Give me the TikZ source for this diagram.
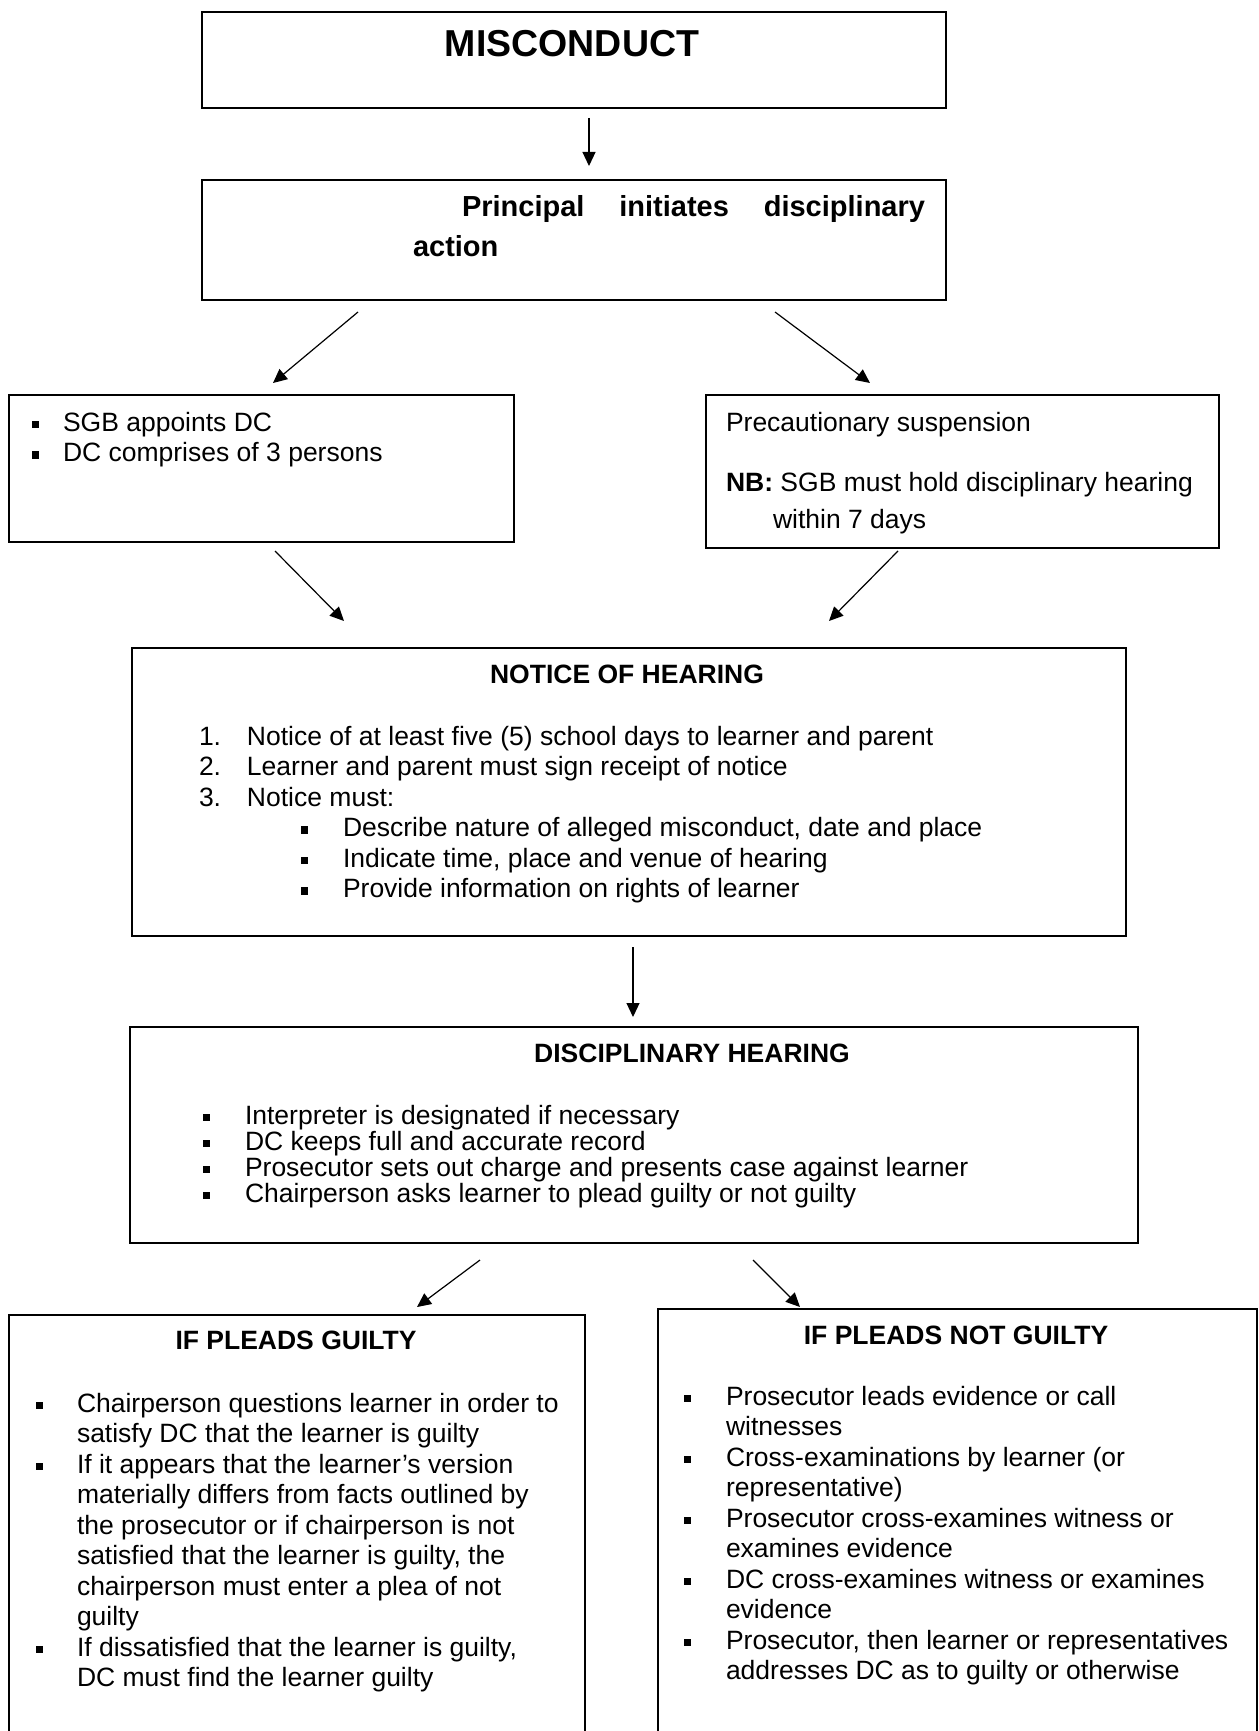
\documentclass[tikz,border=0pt]{standalone}
\usepackage{fontspec}
\setmainfont{Liberation Sans}
\usetikzlibrary{arrows.meta}
\newcommand{\sqb}{\rule[3pt]{6.5pt}{7.5pt}}
\newcommand{\bodyfont}{\fontsize{26.5pt}{30.5pt}\selectfont}
\newcommand{\hitem}[3]{\par\noindent\hangindent=#1\hangafter=1\makebox[#1][l]{#2}#3\par}
\newcommand{\sqsubitem}[3]{\par\noindent\hspace*{#1}\makebox[#2][l]{\sqb}#3\par}
\begin{document}
\begin{tikzpicture}[x=1pt,y=-1pt,
  box/.style={draw, line width=1.8pt, inner sep=0pt, anchor=north west},
  txt/.style={inner sep=0pt, outer sep=0pt, anchor=base west},
  head/.style={inner sep=0pt, outer sep=0pt, anchor=base, font=\fontsize{26.5pt}{30.5pt}\selectfont\bfseries},
  arr/.style={line width=1.2pt, -{Triangle[length=14pt,width=13pt]}}]
\useasboundingbox (0,0) rectangle (1258,1731);

% ---- boxes
\node[box, minimum width=744pt, minimum height=96pt]  (misc)  at (201,11)  {};
\node[box, minimum width=744pt, minimum height=120pt] (princ) at (201,179) {};
\node[box, minimum width=505pt, minimum height=147pt] (sgb)   at (8,394)   {};
\node[box, minimum width=513pt, minimum height=153pt] (prec)  at (705,394) {};
\node[box, minimum width=994pt, minimum height=288pt] (notice) at (131,647) {};
\node[box, minimum width=1008pt, minimum height=216pt] (disc) at (129,1026) {};
\node[box, minimum width=576pt, minimum height=440pt] (guilty) at (8,1314) {};
\node[box, minimum width=599pt, minimum height=446pt] (notg)  at (657,1308) {};

% ---- texts
\node[head, font=\fontsize{37.5pt}{40pt}\selectfont\bfseries] (misct) at (572,57) {MISCONDUCT};

\node[txt] (princt) at (413,216) {\parbox[t]{540pt}{\fontsize{29pt}{40pt}\selectfont\bfseries
  \hspace*{49pt}\makebox[463pt][s]{Principal initiates disciplinary}\\action}};

\node[txt] (sgbt) at (32,431) {\parbox[t]{470pt}{\bodyfont\raggedright
  \hitem{31pt}{\sqb}{SGB appoints DC}
  \hitem{31pt}{\sqb}{DC comprises of 3 persons}}};

\node[txt] (prect) at (726,431) {\bodyfont Precautionary suspension};
\node[txt] (nbt) at (726,491) {\parbox[t]{490pt}{\fontsize{26.5pt}{37pt}\selectfont\raggedright
  \noindent\hangindent=47pt\hangafter=1 \textbf{NB:} SGB must hold disciplinary hearing\newline within 7 days\par}};

\node[head] (noticet) at (627,683) {NOTICE OF HEARING};
\node[txt] (noticeb) at (199,745) {\parbox[t]{900pt}{\bodyfont\raggedright
  \hitem{48pt}{1.}{Notice of at least five (5) school days to learner and parent}
  \hitem{48pt}{2.}{Learner and parent must sign receipt of notice}
  \hitem{48pt}{3.}{Notice must:}
  \sqsubitem{102pt}{42pt}{Describe nature of alleged misconduct, date and place}
  \sqsubitem{102pt}{42pt}{Indicate time, place and venue of hearing}
  \sqsubitem{102pt}{42pt}{Provide information on rights of learner}}};

\node[head] (disct) at (692,1062) {DISCIPLINARY HEARING};
\node[txt] (discb) at (203,1124) {\parbox[t]{900pt}{\fontsize{26.5pt}{26pt}\selectfont\raggedright
  \hitem{42pt}{\sqb}{Interpreter is designated if necessary}
  \hitem{42pt}{\sqb}{DC keeps full and accurate record}
  \hitem{42pt}{\sqb}{Prosecutor sets out charge and presents case against learner}
  \hitem{42pt}{\sqb}{Chairperson asks learner to plead guilty or not guilty}}};

\node[head] (guiltyt) at (296,1349) {IF PLEADS GUILTY};
\node[txt] (guiltyb) at (36,1412) {\parbox[t]{600pt}{\bodyfont\raggedright\hyphenpenalty=10000
  \hitem{41pt}{\sqb}{Chairperson questions learner in order to\newline satisfy DC that the learner is guilty}
  \hitem{41pt}{\sqb}{If it appears that the learner’s version\newline materially differs from facts outlined by\newline the prosecutor or if chairperson is not\newline satisfied that the learner is guilty, the\newline chairperson must enter a plea of not\newline guilty}
  \hitem{41pt}{\sqb}{If dissatisfied that the learner is guilty,\newline DC must find the learner guilty}}};

\node[head] (notgt) at (956,1344) {IF PLEADS NOT GUILTY};
\node[txt] (notgb) at (684,1405) {\parbox[t]{600pt}{\bodyfont\raggedright\hyphenpenalty=10000
  \hitem{42pt}{\sqb}{Prosecutor leads evidence or call\newline witnesses}
  \hitem{42pt}{\sqb}{Cross-examinations by learner (or\newline representative)}
  \hitem{42pt}{\sqb}{Prosecutor cross-examines witness or\newline examines evidence}
  \hitem{42pt}{\sqb}{DC cross-examines witness or examines\newline evidence}
  \hitem{42pt}{\sqb}{Prosecutor, then learner or representatives\newline addresses DC as to guilty or otherwise}}};

% ---- connector end points
\coordinate (a1s) at (589,118);  \coordinate (a1e) at (589,166);
\coordinate (a2s) at (358,312);  \coordinate (a2e) at (273,383);
\coordinate (a3s) at (775,312);  \coordinate (a3e) at (870,383);
\coordinate (a4s) at (275,551);  \coordinate (a4e) at (344,621);
\coordinate (a5s) at (898,551);  \coordinate (a5e) at (829,621);
\coordinate (a6s) at (633,947);  \coordinate (a6e) at (633,1017);
\coordinate (a7s) at (480,1260); \coordinate (a7e) at (417,1307);
\coordinate (a8s) at (753,1260); \coordinate (a8e) at (800,1307);

\draw[arr] (a1s) -- (a1e);
\draw[arr] (a2s) -- (a2e);
\draw[arr] (a3s) -- (a3e);
\draw[arr] (a4s) -- (a4e);
\draw[arr] (a5s) -- (a5e);
\draw[arr] (a6s) -- (a6e);
\draw[arr] (a7s) -- (a7e);
\draw[arr] (a8s) -- (a8e);
\end{tikzpicture}
\end{document}
